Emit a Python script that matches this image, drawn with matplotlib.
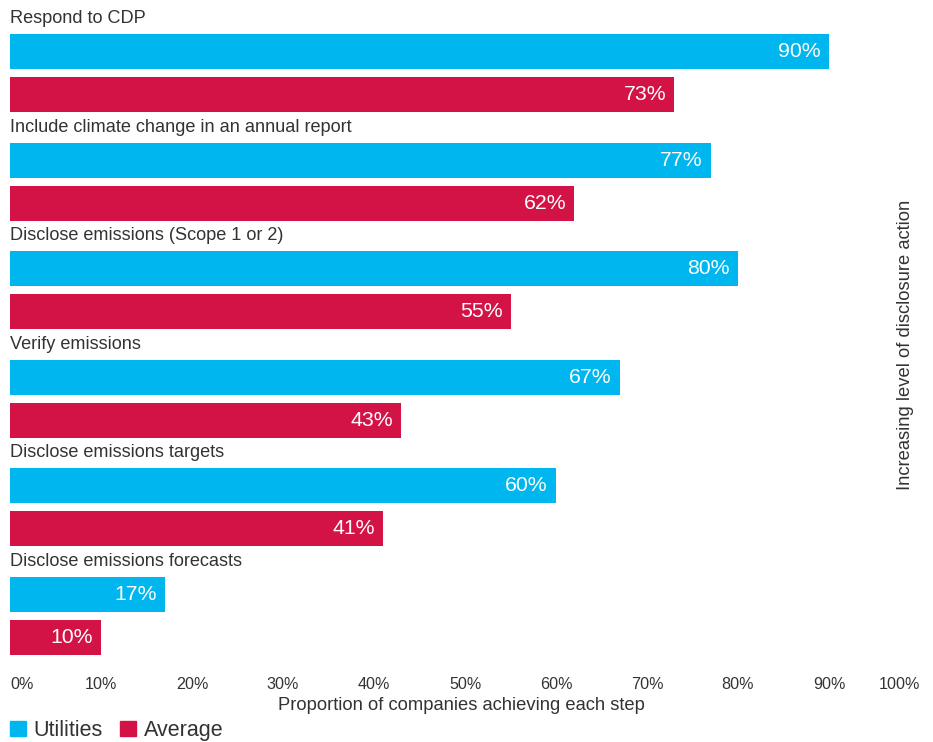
import matplotlib
matplotlib.use("Agg")
import matplotlib.pyplot as plt
from matplotlib.patches import Patch

plt.rcParams['font.family'] = ['Liberation Sans', 'DejaVu Sans']

categories = [
    "Respond to CDP",
    "Include climate change in an annual report",
    "Disclose emissions (Scope 1 or 2)",
    "Verify emissions",
    "Disclose emissions targets",
    "Disclose emissions forecasts",
]
utilities = [90, 77, 80, 67, 60, 17]
average = [73, 62, 55, 43, 41, 10]
tick_values = [0, 10, 20, 30, 40, 50, 60, 70, 80, 90, 100]
tick_labels = [f"{v}%" for v in tick_values]

BLUE = "#00B6EF"
RED = "#D31245"
TEXT = "#333333"

W, H = 933, 742
fig = plt.figure(figsize=(W / 100, H / 100), dpi=100)
ax_top, ax_bottom = 0, 660
ax = fig.add_axes([10 / W, (H - ax_bottom) / H, 910 / W, (ax_bottom - ax_top) / H])

group_step = 108.6
bar_h = 35
label_off = 18.5
blue_off = 51.5
red_off = 94.5

for i, (cat, u, a) in enumerate(zip(categories, utilities, average)):
    base = i * group_step
    yb = base + blue_off
    yr = base + red_off
    ax.barh(yb, u, height=bar_h, color=BLUE, left=0)
    ax.barh(yr, a, height=bar_h, color=RED, left=0)
    ax.text(0, base + label_off, cat, ha="left", va="center", fontsize=13.1, color=TEXT)
    ax.text(u - 0.9, yb, f"{u}%", ha="right", va="center", fontsize=15.3, color="white")
    ax.text(a - 0.9, yr, f"{a}%", ha="right", va="center", fontsize=15.3, color="white")

ax.set_xlim(0, 100)
ax.set_ylim(ax_bottom - ax_top, 0)
for s in ax.spines.values():
    s.set_visible(False)
ax.set_yticks([])
ax.set_xticks(tick_values)
ax.set_xticklabels(tick_labels, fontsize=11.6, color=TEXT)
ax.tick_params(axis="x", length=0, pad=12)
xl = ax.get_xticklabels()
xl[0].set_ha("left")
xl[-1].set_ha("right")

fig.text(461 / W, 1 - 705 / H, "Proportion of companies achieving each step",
         ha="center", va="center", fontsize=13.2, color=TEXT)
fig.text(905 / W, 1 - 345 / H, "Increasing level of disclosure action",
         ha="center", va="center", rotation=90, fontsize=13.2, color=TEXT)

handles = [Patch(color=BLUE, label="Utilities"), Patch(color=RED, label="Average")]
fig.legend(handles=handles, loc="lower left", bbox_to_anchor=(9 / W, 0.0), ncol=2,
           frameon=False, fontsize=15.5, handlelength=0.75, handleheight=0.75,
           handletextpad=0.35, columnspacing=0.8, borderaxespad=0.0, borderpad=0.05,
           labelcolor=TEXT)

fig.savefig("out.png", dpi=100)
